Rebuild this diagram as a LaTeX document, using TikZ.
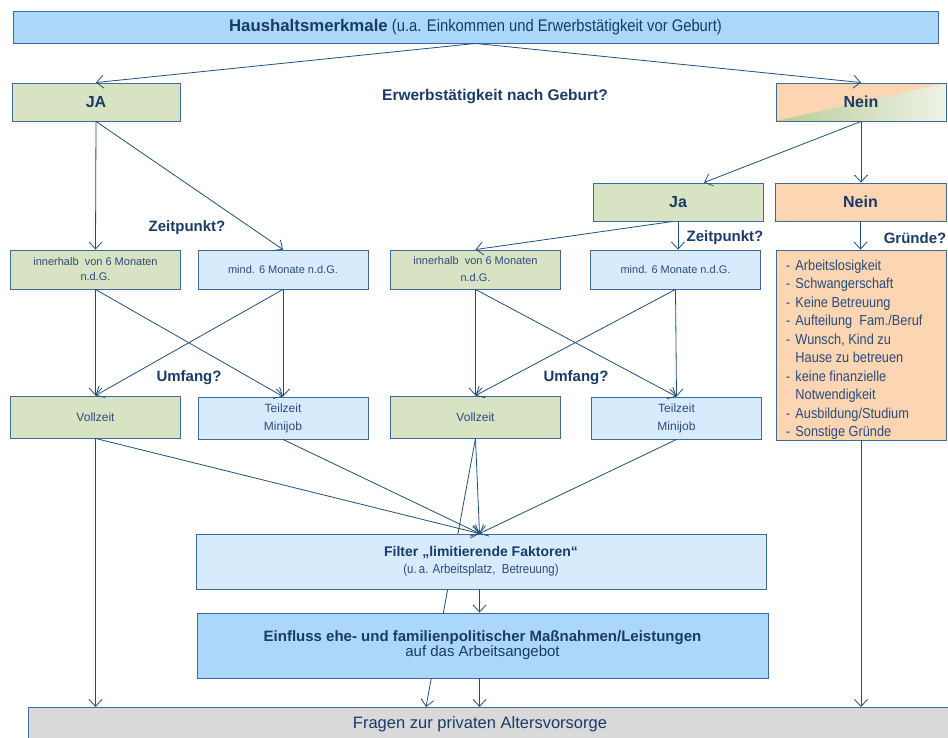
\documentclass[tikz,border=0pt]{standalone}
\usepackage{fontspec}
\setmainfont{Liberation Sans}
\newfontfamily\nar{Liberation Sans}[FakeStretch=0.88]
\usetikzlibrary{arrows.meta,backgrounds}
\definecolor{navy}{HTML}{1A3A68}
\definecolor{txt}{HTML}{2A4B7C}
\definecolor{linec}{HTML}{1F4E79}
\definecolor{bordc}{HTML}{3D6A98}
\definecolor{topblue}{HTML}{ABD8FA}
\definecolor{lblue}{HTML}{D7EBFC}
\definecolor{olive}{HTML}{D8E3C4}
\definecolor{peach}{HTML}{FCD6B3}
\definecolor{greyc}{HTML}{D9D9D9}
\definecolor{greenA}{HTML}{B8CC94}
\definecolor{greenB}{HTML}{EEF2E6}
\begin{document}
\begin{tikzpicture}[x=1pt,y=-1pt,
  box/.style={draw=bordc, line width=0.9pt, inner sep=0pt, align=center, text=txt},
  arr/.style={draw=linec, line width=0.8pt, -{Straight Barb[length=7pt,width=13pt,line width=0.8pt]}},
  lbl/.style={text=navy, font=\fontsize{15}{18}\selectfont\bfseries, inner sep=0pt},
  bigb/.style={text=navy, font=\fontsize{16}{19}\selectfont\bfseries},
  small/.style={font=\fontsize{11}{15}\selectfont},
  mid/.style={font=\fontsize{12}{18}\selectfont},
  row/.style={minimum width=170pt, minimum height=39pt},
  rowb/.style={minimum width=170pt, minimum height=42pt},
  gradnein/.style={path picture={\shade[left color=greenA, right color=greenB]
     (path picture bounding box.south west) -- (path picture bounding box.north east)
     -- (path picture bounding box.south east) -- cycle;}}
]
\useasboundingbox (0,0) rectangle (948,738);

% top
\node[box, fill=topblue, minimum width=925pt, minimum height=32pt, text=navy,
  font=\nar\fontsize{16.8}{19}\selectfont] (top) at (475.5,27)
  {{\rmfamily\bfseries Haushaltsmerkmale} (u.a. Einkommen und Erwerbstätigkeit vor Geburt)};

\node[box, fill=olive, minimum width=168pt, minimum height=38pt, bigb] (ja1) at (96,102) {JA};
\node[box, fill=peach, gradnein, minimum width=170pt, minimum height=38pt, bigb] (nein1) at (861,102) {Nein};
\node[lbl, font=\fontsize{15.5}{18}\selectfont\bfseries] (q1) at (495,97) {Erwerbstätigkeit nach Geburt?};

\node[box, fill=olive, minimum width=170pt, minimum height=38pt, bigb] (ja2) at (678,202) {Ja};
\node[box, fill=peach, minimum width=171pt, minimum height=38pt, bigb] (nein2) at (860.5,202) {Nein};

\node[lbl] (zp1) at (187,228) {Zeitpunkt?};
\node[lbl] (zp2) at (725,238) {Zeitpunkt?};
\node[lbl] (gr) at (915,238) {Gründe?};

% row 1
\node[box, fill=olive, row, small] (in1) at (95.5,269.5) {innerhalb\ \ von 6 Monaten\\n.d.G.};
\node[box, fill=lblue, row, small] (mi1) at (283,269.5) {mind. 6 Monate n.d.G.};
\node[box, fill=olive, row, small] (in2) at (475.5,269.5) {innerhalb\ \ von 6 Monaten\\[2pt]n.d.G.};
\node[box, fill=lblue, row, small] (mi2) at (675.5,269.5) {mind. 6 Monate n.d.G.};

\node[box, fill=peach, minimum width=170pt, minimum height=190pt] (list) at (861,345) {};
\node[anchor=north west, inner sep=0pt, text=txt, font=\nar\fontsize{14.5}{18.5}\selectfont, align=left] (listtext) at (786,257)
{\begin{tabular}{@{}l@{\hspace{5pt}}l@{}}
- & Arbeitslosigkeit\\
- & Schwangerschaft\\
- & Keine Betreuung\\
- & Aufteilung\ \ Fam./Beruf\\
- & Wunsch, Kind zu\\
  & Hause zu betreuen\\
- & keine finanzielle\\
  & Notwendigkeit\\
- & Ausbildung/Studium\\
- & Sonstige Gründe
\end{tabular}};

\node[lbl] (uf1) at (189,378) {Umfang?};
\node[lbl] (uf2) at (576,378) {Umfang?};

% row 2
\node[box, fill=olive, rowb, mid] (vo1) at (95.5,417) {Vollzeit};
\node[box, fill=lblue, rowb, mid] (te1) at (283,418) {Teilzeit\\Minijob};
\node[box, fill=olive, rowb, mid] (vo2) at (475.5,417) {Vollzeit};
\node[box, fill=lblue, rowb, mid] (te2) at (676.5,418) {Teilzeit\\Minijob};

% filter, einfluss, fragen
\node[box, fill=lblue, minimum width=570pt, minimum height=55pt] (filter) at (481,561.5)
  {{\fontsize{14}{17}\selectfont\bfseries\color{navy} Filter „limitierende Faktoren“}\\[5pt]
   {\nar\fontsize{13}{17}\selectfont (u.\,a. Arbeitsplatz,\ \ Betreuung)}};
\node[box, fill=topblue, minimum width=571pt, minimum height=65pt] (einfl) at (482.5,645.5)
  {{\fontsize{15}{17}\selectfont\bfseries\color{navy} Einfluss ehe- und familienpolitischer Maßnahmen/Leistungen}\\
   {\fontsize{15}{17}\selectfont\color{navy} auf das Arbeitsangebot}};
\node[box, fill=greyc, minimum width=925pt, minimum height=40pt, anchor=north west] (fragen) at (28,707) {};
\node[text=navy, inner sep=0pt, font=\fontsize{16.5}{19}\selectfont] (fragtext) at (480,724) {Fragen zur privaten Altersvorsorge};

% connectors
\draw[arr] (top.south) -- (ja1.north);
\draw[arr] (top.south) -- (nein1.north);
\draw[arr] (ja1.south) -- (in1.north);
\draw[arr] (ja1.south) -- (mi1.north);
\draw[arr] (nein1.south) -- ([xshift=26pt]ja2.north);
\draw[arr] (nein1.south) -- (nein1.south |- nein2.north);
\draw[arr] ([xshift=-5pt]ja2.south) -- (in2.north);
\draw[arr] (ja2.south) -- (ja2.south |- mi2.north);
\draw[arr] (nein2.south) -- (nein2.south |- list.north);

\draw[arr] (in1.south) -- (vo1.north);
\draw[arr] (in1.south) -- (te1.north);
\draw[arr] (mi1.south) -- (vo1.north);
\draw[arr] (mi1.south) -- (te1.north);
\draw[arr] (in2.south) -- (vo2.north);
\draw[arr] (in2.south) -- (te2.north);
\draw[arr] (mi2.south) -- (vo2.north);
\draw[arr] (mi2.south) -- (te2.north);

\coordinate (fin) at ([xshift=-1.5pt]filter.north);
\draw[arr] (vo1.south) -- (fin);
\draw[arr] (te1.south) -- (fin);
\draw[arr] (vo2.south) -- (fin);
\draw[arr] (te2.south) -- (fin);
\begin{scope}[on background layer]
\draw[arr] (vo2.south) -- ([xshift=398pt]fragen.north west);
\end{scope}
\draw[arr] (fin |- filter.south) -- (fin |- einfl.north);
\draw[arr] (fin |- einfl.south) -- (fin |- fragen.north);
\draw[arr] (vo1.south) -- (vo1.south |- fragen.north);
\draw[arr] (list.south) -- (list.south |- fragen.north);
\end{tikzpicture}
\end{document}
